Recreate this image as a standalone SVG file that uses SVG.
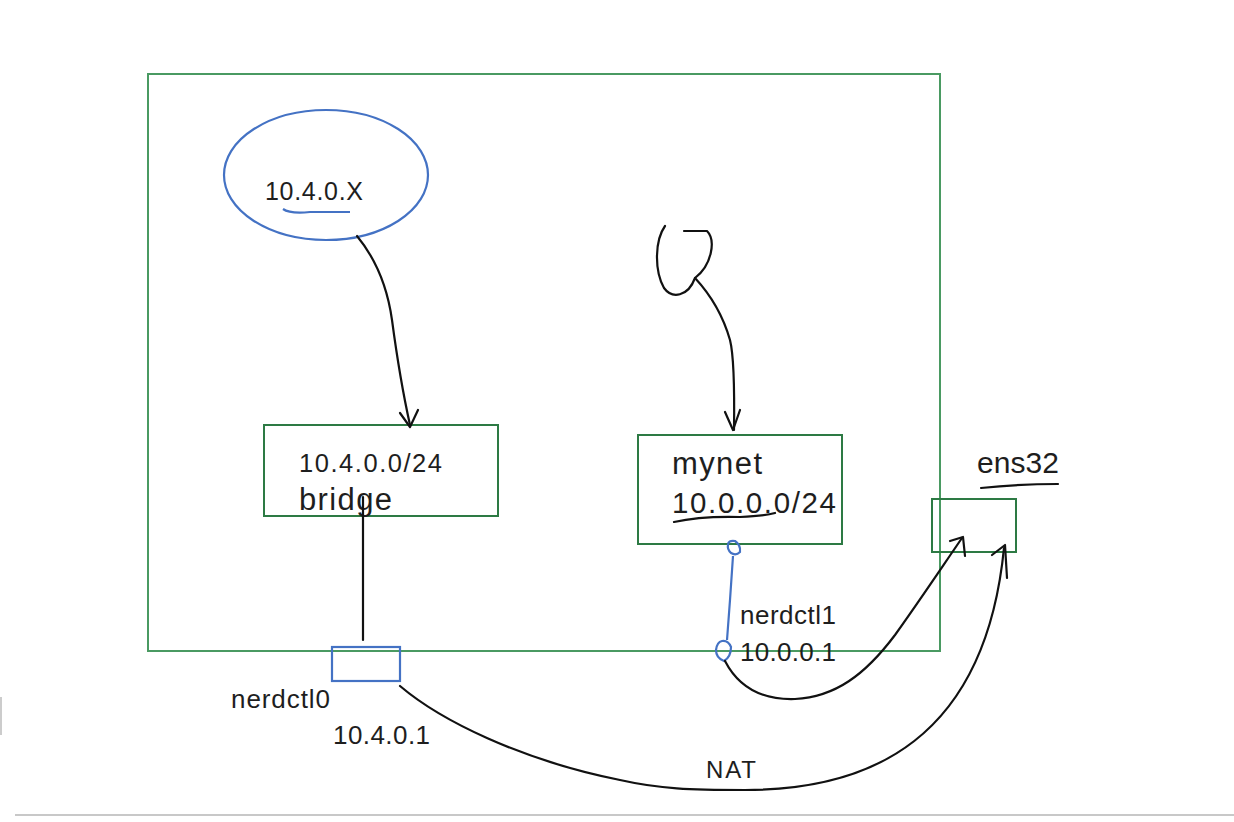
<svg xmlns="http://www.w3.org/2000/svg" width="1234" height="822" viewBox="0 0 1234 822">
<style>
.t{font-family:"Liberation Sans",Arial,sans-serif;fill:#1e1e1e}
.g{fill:none;stroke:#2d7a44;stroke-width:2}
.gl{fill:none;stroke:#4a9a62;stroke-width:2}
.b{fill:none;stroke:#4472c4;stroke-width:2.2}
.k{fill:none;stroke:#111;stroke-width:2.2;stroke-linecap:round;stroke-linejoin:round}
</style>
<rect width="1234" height="822" fill="#fff"/>
<line x1="15" y1="815" x2="1234" y2="815" stroke="#c8c8c8" stroke-width="2"/>
<line x1="1" y1="697" x2="1" y2="735" stroke="#ccc" stroke-width="2"/>
<g id="host"><rect class="gl" x="148" y="74" width="792" height="577"/></g>
<g id="container1">
<ellipse class="b" cx="326" cy="175" rx="102" ry="65"/>
<text class="t" x="265" y="200" font-size="25" textLength="98">10.4.0.X</text>
<path class="b" d="M283 209 Q290 214 310 212 L350 212"/>
</g>
<g id="container2">
<path class="k" d="M665 226 C655 240 654 270 664 288 C672 299 688 297 695 278 C712 265 716 240 707 231 L684 231"/>
</g>
<g id="bridge">
<rect class="g" x="264" y="425" width="234" height="91"/>
<text class="t" x="299" y="472" font-size="25.5" textLength="143">10.4.0.0/24</text>
<text class="t" x="299" y="510" font-size="31" textLength="93">bridge</text>
</g>
<g id="mynet">
<rect class="g" x="638" y="435" width="204" height="109"/>
<text class="t" x="672" y="474" font-size="31" textLength="90">mynet</text>
<text class="t" x="672" y="513" font-size="29.5" textLength="164">10.0.0.0/24</text>
<path class="k" d="M674 522 Q700 516 740 517 Q765 516 775 513"/>
</g>
<g id="ens32">
<rect class="g" x="932" y="499" width="84" height="53"/>
<text class="t" x="977" y="473" font-size="30" textLength="82">ens32</text>
<path class="k" d="M981 488 Q1020 484 1058 484"/>
</g>
<g id="nerdctl0">
<rect class="b" x="332" y="647" width="68" height="34"/>
<text class="t" x="231" y="708" font-size="26" textLength="99">nerdctl0</text>
<text class="t" x="333" y="744" font-size="26" textLength="97">10.4.0.1</text>
</g>
<g id="nerdctl1">
<text class="t" x="740" y="624" font-size="26" textLength="96">nerdctl1</text>
<text class="t" x="740" y="661" font-size="26" textLength="96">10.0.0.1</text>
</g>
<g id="connectors">
<path class="k" d="M357 236 Q385 270 392 320 Q400 380 410 425"/>
<path class="k" d="M400 413 L410 427 L418 410"/>
<path class="k" d="M695 278 Q720 305 730 340 Q735 360 734 430"/>
<path class="k" d="M725 412 L733 430 L740 410"/>
<line class="k" x1="363" y1="497" x2="363" y2="640"/>
<path class="b" d="M728 545 Q728 540 735 541 Q741 545 740 552 Q736 556 731 553 Q727 549 728 545 Z"/>
<path class="b" d="M733 556 L730 600 L727 640"/>
<path class="b" d="M722 641 Q728 640 731 647 Q731 657 724 661 Q716 658 716 650 Q717 642 722 641 Z"/>
<path class="k" d="M725 661 C740 690 765 700 795 699 C835 697 865 675 895 635 C920 600 940 570 962 538"/>
<path class="k" d="M950 541 L963 537 L965 556"/>
<path class="k" d="M400 686 C440 720 520 760 620 780 C660 789 690 790 745 790 C870 790 985 740 1004 548"/>
<path class="k" d="M992 555 L1005 545 L1007 578"/>
<text class="t" x="706" y="778" font-size="24" textLength="50">NAT</text>
</g>
</svg>
